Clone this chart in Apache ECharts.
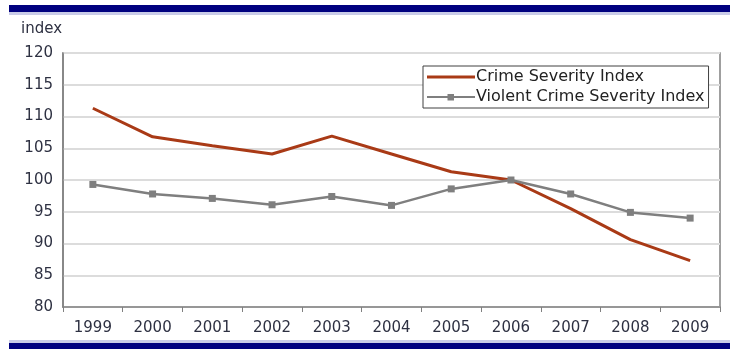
<!DOCTYPE html>
<html>
<head>
<meta charset="utf-8">
<script src="https://cdn.jsdelivr.net/npm/echarts@6/dist/echarts.min.js"></script>
<style>html,body{margin:0;padding:0;background:#fff;}#c{width:730px;height:350px;}</style>
</head>
<body>
<div id="c"></div>
<script>
var years = ['1999','2000','2001','2002','2003','2004','2005','2006','2007','2008','2009'];
var crimeSeverity = [111.3,106.8,105.4,104.1,106.9,104.1,101.3,100.0,95.5,90.6,87.3];
var violentSeverity = [99.3,97.8,97.1,96.1,97.4,96.0,98.6,100.0,97.8,94.9,94.0];
var yTicks = {min:80, max:120, interval:5};
var font = 'DejaVu Sans';
var txt = '#2E3142';

var chart = echarts.init(document.getElementById('c'), null, {renderer:'canvas'});
chart.setOption({
  animation:false,
  backgroundColor:'#fff',
  grid:{left:63, right:10, top:53, bottom:43, show:true, borderColor:'#808080', borderWidth:1.5, containLabel:false},
  graphic:[
    {type:'rect', shape:{x:9,y:12,width:721,height:3}, style:{fill:'#C9CBE8'}, silent:true},
    {type:'rect', shape:{x:9,y:5,width:721,height:7}, style:{fill:'#00007F'}, silent:true},
    {type:'rect', shape:{x:9,y:340,width:721,height:3}, style:{fill:'#C9CBE8'}, silent:true},
    {type:'rect', shape:{x:9,y:343,width:721,height:6}, style:{fill:'#00007F'}, silent:true},
    {type:'text', left:21, top:22, style:{text:'index', fontFamily:font, fontSize:15, fill:txt}}
  ],
  legend:{
    orient:'vertical', left:423, top:66,
    padding:[3,4,3,4], itemGap:4, itemWidth:48, itemHeight:7,
    borderColor:'#404040', borderWidth:1, backgroundColor:'#fff',
    textStyle:{fontFamily:font, fontSize:16, lineHeight:16, color:'#222', padding:[0,0,0,-4]},
    data:[
      {name:'Crime Severity Index', icon:'path://M0,2H48V5H0Z M0,0H0.05V0.05H0Z M47.95,6.95H48V7H47.95Z'},
      {name:'Violent Crime Severity Index', icon:'path://M0,2.5H48V4.5H0Z M20.5,0.5H27V7H20.5Z M0,0H0.05V0.05H0Z'}
    ]
  },
  xAxis:{
    type:'category', data:years, boundaryGap:true,
    axisLine:{show:true, lineStyle:{color:'#808080', width:1.5}},
    axisTick:{show:true, inside:false, length:5, lineStyle:{color:'#808080'}},
    axisLabel:{margin:14, fontFamily:font, fontSize:15, color:txt},
    splitLine:{show:false}
  },
  yAxis:{
    type:'value', min:yTicks.min, max:yTicks.max, interval:yTicks.interval,
    axisLine:{show:true, lineStyle:{color:'#808080', width:1.5}},
    axisTick:{show:false},
    axisLabel:{margin:10, fontFamily:font, fontSize:15, color:txt},
    splitLine:{show:true, lineStyle:{color:'#DCDCDC', width:2}}
  },
  series:[
    {name:'Crime Severity Index', type:'line', data:crimeSeverity, symbol:'none',
     lineStyle:{color:'#A93A16', width:3}, itemStyle:{color:'#A93A16'}},
    {name:'Violent Crime Severity Index', type:'line', data:violentSeverity, symbol:'rect', symbolSize:7,
     lineStyle:{color:'#7F7F7F', width:2.5}, itemStyle:{color:'#7F7F7F'}}
  ]
});
</script>
</body>
</html>
